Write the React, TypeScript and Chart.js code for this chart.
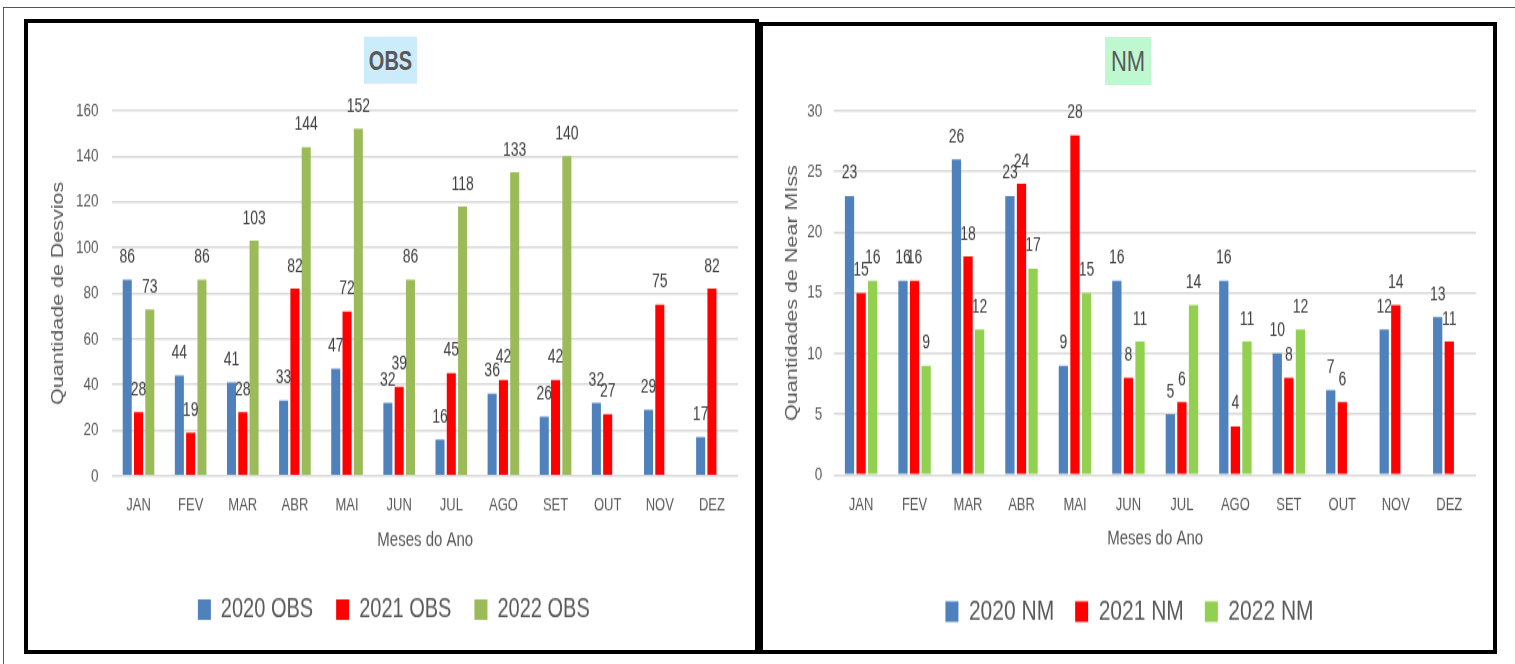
import React, { useEffect, useRef } from 'react';
import { Chart, registerables } from 'chart.js';

Chart.register(...registerables);

const months = ['JAN', 'FEV', 'MAR', 'ABR', 'MAI', 'JUN', 'JUL', 'AGO', 'SET', 'OUT', 'NOV', 'DEZ'];

const obs2020 = [86, 44, 41, 33, 47, 32, 16, 36, 26, 32, 29, 17];
const obs2021 = [28, 19, 28, 82, 72, 39, 45, 42, 42, 27, 75, 82];
const obs2022 = [73, 86, 103, 144, 152, 86, 118, 133, 140, null, null, null];

const nm2020 = [23, 16, 26, 23, 9, 16, 5, 16, 10, 7, 12, 13];
const nm2021 = [15, 16, 18, 24, 28, 8, 6, 4, 8, 6, 14, 11];
const nm2022 = [16, 9, 12, 17, 15, 11, 14, 11, 12, null, null, null];

const obsTicks = [0, 20, 40, 60, 80, 100, 120, 140, 160];
const nmTicks = [0, 5, 10, 15, 20, 25, 30];

const FONT = '"Liberation Sans", Arial, sans-serif';
const TEXT = '#595959';

const valueLabels = {
  id: 'valueLabels',
  afterDatasetsDraw(chart: any) {
    const ctx = chart.ctx;
    ctx.save();
    ctx.font = `14px ${FONT}`;
    ctx.fillStyle = '#404040';
    ctx.textAlign = 'center';
    ctx.textBaseline = 'alphabetic';
    chart.data.datasets.forEach((ds: any, i: number) => {
      const meta = chart.getDatasetMeta(i);
      meta.data.forEach((bar: any, j: number) => {
        const v = ds.data[j];
        if (v == null) return;
        ctx.fillText(String(v), bar.x, bar.y - 12.5);
      });
    });
    ctx.restore();
  },
};

type Panel = {
  series: { label: string; data: (number | null)[]; color: string }[];
  ticks: number[];
  yTitle: string;
  padding: { left: number; right: number; top: number; bottom: number };
  yTickGap: number;
  yTitlePad: { top: number; bottom: number };
  xTitlePad: { top: number; bottom: number };
  legendSize: number;
  legendPad: number;
};

const makeConfig = (p: Panel): any => ({
  type: 'bar',
  data: {
    labels: months,
    datasets: p.series.map((s) => ({
      label: s.label,
      data: s.data,
      backgroundColor: s.color,
      borderWidth: 0,
      barPercentage: 0.8,
      categoryPercentage: 0.65,
    })),
  },
  options: {
    responsive: false,
    animation: false,
    layout: { padding: p.padding },
    plugins: {
      legend: {
        position: 'bottom',
        labels: {
          font: { family: FONT, size: p.legendSize },
          color: TEXT,
          boxWidth: 13,
          boxHeight: 15,
          padding: p.legendPad,
        },
      },
      tooltip: { enabled: false },
      title: { display: false },
    },
    scales: {
      x: {
        grid: { display: false, drawTicks: true, tickLength: 14 },
        border: { display: false },
        ticks: { font: { family: FONT, size: 13 }, color: TEXT, padding: 0 },
        title: {
          display: true,
          text: 'Meses do Ano',
          font: { family: FONT, size: 15 },
          color: TEXT,
          padding: p.xTitlePad,
        },
      },
      y: {
        min: p.ticks[0],
        max: p.ticks[p.ticks.length - 1],
        afterBuildTicks: (axis: any) => {
          axis.ticks = p.ticks.map((v) => ({ value: v }));
        },
        ticks: { font: { family: FONT, size: 13.5 }, color: TEXT, padding: 0 },
        grid: {
          color: '#D9D9D9',
          lineWidth: 1.6,
          drawTicks: true,
          tickLength: p.yTickGap,
          tickColor: 'rgba(0,0,0,0)',
        },
        border: { display: false },
        title: {
          display: true,
          text: p.yTitle,
          font: { family: FONT, size: 15.7 },
          color: TEXT,
          padding: p.yTitlePad,
        },
      },
    },
  },
  plugins: [valueLabels],
});

function BarChart({ panel, width, height }: { panel: Panel; width: number; height: number }) {
  const ref = useRef<HTMLCanvasElement>(null);
  useEffect(() => {
    if (!ref.current) return;
    const chart = new Chart(ref.current, makeConfig(panel));
    return () => chart.destroy();
  }, [panel]);
  return <canvas ref={ref} width={width} height={height} style={{ width, height, display: 'block' }} />;
}

const leftPanel: Panel = {
  series: [
    { label: '2020 OBS', data: obs2020, color: '#4F81BD' },
    { label: '2021 OBS', data: obs2021, color: '#FF0000' },
    { label: '2022 OBS', data: obs2022, color: '#9BBB59' },
  ],
  ticks: obsTicks,
  yTitle: 'Quantidade de Desvios',
  padding: { left: 21.6, right: 17, top: 64, bottom: 9.5 },
  yTickGap: 14,
  yTitlePad: { top: 0, bottom: 7.5 },
  xTitlePad: { top: 8, bottom: 9 },
  legendSize: 20,
  legendPad: 23,
};

const rightPanel: Panel = {
  series: [
    { label: '2020 NM', data: nm2020, color: '#4F81BD' },
    { label: '2021 NM', data: nm2021, color: '#FF0000' },
    { label: '2022 NM', data: nm2022, color: '#92D050' },
  ],
  ticks: nmTicks,
  yTitle: 'Quantidades de Near MIss',
  padding: { left: 20, right: 17, top: 62, bottom: 7.6 },
  yTickGap: 12,
  yTitlePad: { top: 0, bottom: 5.5 },
  xTitlePad: { top: 8, bottom: 12.5 },
  legendSize: 21,
  legendPad: 21,
};

function Stretched({ left, top, width, height, scale, children }: any) {
  return (
    <div style={{ position: 'absolute', left, top, width, height, transform: `scaleY(${scale})`, transformOrigin: '0 0' }}>
      {children}
    </div>
  );
}

export default function App() {
  return (
    <div style={{ position: 'absolute', left: 0, top: 0, width: 1515, height: 664, background: '#fff', overflow: 'hidden' }}>
      <div style={{ position: 'absolute', left: 3, top: 7, width: 1512, height: 1, background: '#555' }} />
      <div style={{ position: 'absolute', left: 3, top: 7, width: 1, height: 657, background: '#555' }} />

      <div style={{ position: 'absolute', left: 24, top: 19, width: 735, height: 635, boxSizing: 'border-box', border: '4px solid #000', background: '#fff' }} />
      <div style={{ position: 'absolute', left: 759, top: 22, width: 738, height: 632, boxSizing: 'border-box', border: '4px solid #000', background: '#fff' }} />

      <Stretched left={28} top={23} width={727} height={458} scale={627 / 458}>
        <BarChart panel={leftPanel} width={727} height={458} />
        <div style={{ position: 'absolute', left: 336, top: 10, width: 53, height: 34, background: '#CCEBFB', color: TEXT, fontFamily: FONT, fontWeight: 'bold', fontSize: 20, lineHeight: '34px', textAlign: 'center' }}>OBS</div>
      </Stretched>
      <Stretched left={763} top={26} width={730} height={455} scale={624 / 455}>
        <BarChart panel={rightPanel} width={730} height={455} />
        <div style={{ position: 'absolute', left: 342, top: 8, width: 46, height: 35, background: '#BFF7D1', color: TEXT, fontFamily: FONT, fontSize: 22, lineHeight: '35px', textAlign: 'center' }}>NM</div>
      </Stretched>
    </div>
  );
}
